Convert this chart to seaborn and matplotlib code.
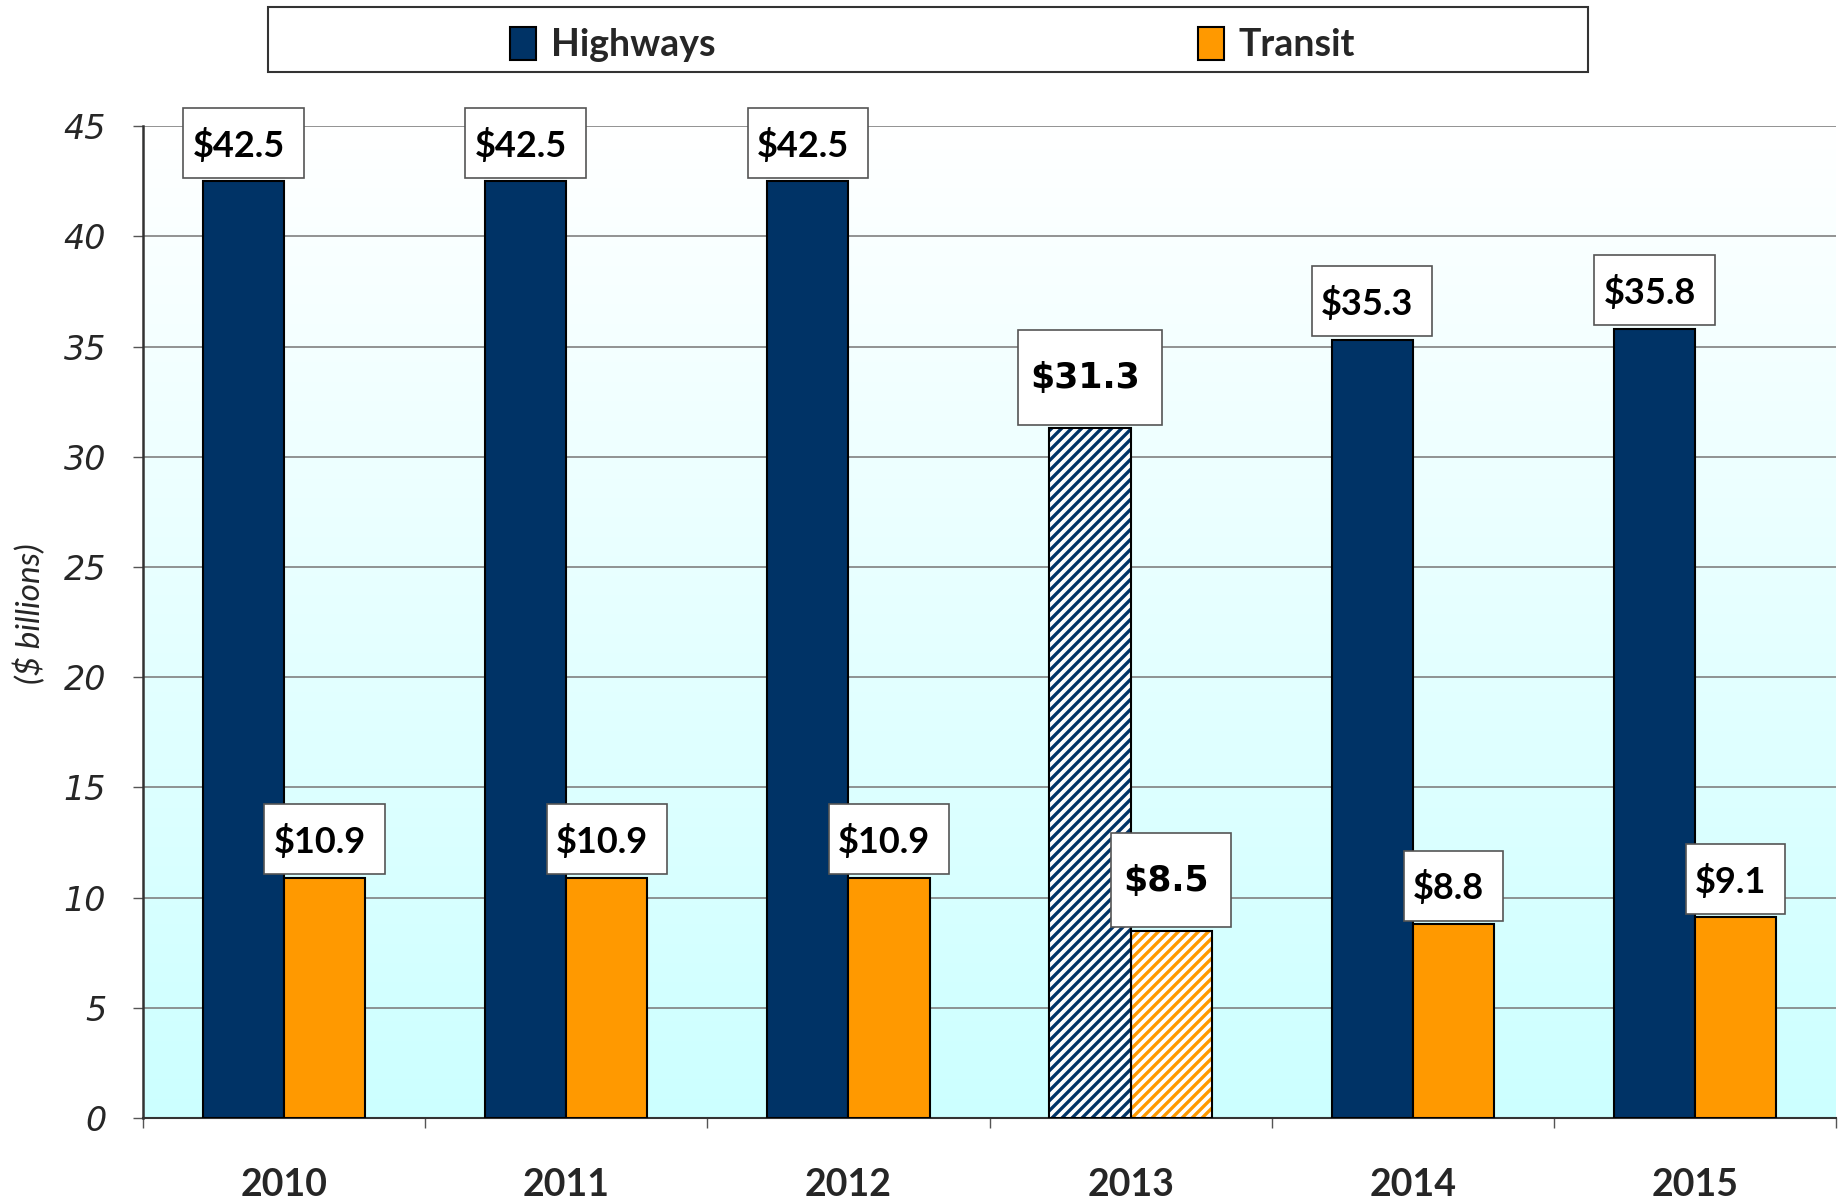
import numpy as np
import pandas as pd
import matplotlib
matplotlib.use("Agg")
import matplotlib.pyplot as plt
import seaborn as sns
from matplotlib.colors import LinearSegmentedColormap
from matplotlib.patches import Rectangle, Patch
from matplotlib.path import Path

# ---- data ----
years = ["2010", "2011", "2012", "2013", "2014", "2015"]
highways = [42.5, 42.5, 42.5, 31.3, 35.3, 35.8]
transit = [10.9, 10.9, 10.9, 8.5, 8.8, 9.1]
series = ["Highways", "Transit"]
colors = {"Highways": "#003366", "Transit": "#FF9900"}
hatched_year = "2013"
y_ticks = [0, 5, 10, 15, 20, 25, 30, 35, 40, 45]

df = pd.DataFrame({
    "year": years * 2,
    "mode": ["Highways"] * len(years) + ["Transit"] * len(years),
    "value": highways + transit,
})

# render at 120 dpi so the hatch spacing matches; sizes below are given
# as points at 100 dpi and scaled with pt()
DPI = 120
S = 100 / DPI


def pt(v):
    return v * S


def label_box(pl, pr, pb, ptop):
    # square box with separate padding on each side (in em)
    def box(x0, y0, width, height, mutation_size):
        m = mutation_size
        xa, xb = x0 - pl * m, x0 + width + pr * m
        ya, yb = y0 - pb * m, y0 + height + ptop * m
        return Path([(xa, ya), (xb, ya), (xb, yb), (xa, yb), (xa, ya)], closed=True)
    return box


sns.set_theme(style="white")
plt.rcParams["hatch.linewidth"] = 2.0
CAL = ["Lato", "DejaVu Sans"]

fig = plt.figure(figsize=(1843 / DPI, 1201 / DPI), dpi=DPI)
ax = fig.add_axes([0.0776, 0.0691, 0.9186, 0.8259])

# gradient background (white -> light cyan)
cmap = LinearSegmentedColormap.from_list("bg", ["#CCFFFF", "#FFFFFF"])
grad = np.linspace(0, 1, 256).reshape(-1, 1)
ax.imshow(grad, extent=[0, 1, 0, 1], transform=ax.transAxes, aspect="auto",
          cmap=cmap, origin="lower", zorder=-10)

sns.barplot(data=df, x="year", y="value", hue="mode", palette=colors,
            width=0.575, saturation=1, edgecolor="black", linewidth=pt(1.5),
            legend=False, ax=ax, zorder=3)

# hatch the 2013 bars
hi = years.index(hatched_year)
for cont, name in zip(ax.containers, series):
    bar = cont[hi]
    bar.set_facecolor("white")
    bar.set_hatch("////")
    bar.set_edgecolor(colors[name])
    bar.set_linewidth(0)
    ax.add_patch(Rectangle(bar.get_xy(), bar.get_width(), bar.get_height(),
                           fill=False, ec="black", lw=pt(1.5), zorder=4))

# value labels
for cont, vals in zip(ax.containers, [highways, transit]):
    for bar, val, yr in zip(cont, vals, years):
        if yr == hatched_year:
            fs, fam = 25, ["DejaVu Sans"]
            pl, pr, pb, ptop = 0.34, 0.64, 0.84, 0.9
        else:
            fs, fam = 26, CAL
            pl, pr, pb, ptop = 0.26, 0.52, 0.42, 0.55
        ax.annotate("\\$" + f"{val:.1f}",
                    xy=(bar.get_x() + bar.get_width() / 2, bar.get_height()),
                    xytext=(pt(-(pr - pl) / 2 * fs), pt(pb * fs + 2.5)),
                    textcoords="offset points",
                    ha="center", va="bottom", fontsize=pt(fs), fontweight="bold",
                    family=fam, color="black",
                    bbox=dict(boxstyle=label_box(pl, pr, pb, ptop), fc="white",
                              ec="#555555", lw=pt(1.2)),
                    zorder=6)

ax.set_xlim(-0.5, len(years) - 0.5)
ax.set_ylim(0, 45)
ax.set_yticks(y_ticks)
ax.set_yticklabels([str(t) for t in y_ticks], fontsize=pt(24), fontstyle="italic",
                   family="DejaVu Sans")
ax.tick_params(axis="y", direction="out", length=pt(7.5), width=pt(1), color="#555555",
               pad=pt(19), left=True)

ax.set_xticks(np.arange(-0.5, len(years), 1))
ax.set_xticklabels([])
ax.set_xticks(np.arange(len(years)), minor=True)
ax.set_xticklabels(years, minor=True, fontsize=pt(27), fontweight="bold", family=CAL)
ax.tick_params(axis="x", which="major", direction="out", length=pt(7.5), width=pt(1),
               color="#555555", bottom=True)
ax.tick_params(axis="x", which="minor", length=0, pad=pt(36))
ax.set_xlabel("")

ax.yaxis.grid(True, color="#808080", lw=pt(1.2))
ax.set_axisbelow(True)
for s in ["top", "right"]:
    ax.spines[s].set_visible(False)
ax.spines["left"].set_color("#333333")
ax.spines["left"].set_linewidth(pt(1.8))
ax.spines["bottom"].set_color("#333333")
ax.spines["bottom"].set_linewidth(pt(1.5))

ax.set_ylabel("(\\$ billions)", fontsize=pt(24), fontstyle="italic", family=CAL)
ax.yaxis.set_label_coords(-0.057, 0.508)

# legend with its own frame
handles = [Patch(facecolor=colors[s], edgecolor="black", lw=pt(1.5)) for s in series]
fs_leg = 27
fig.legend(handles, series, loc="center", bbox_to_anchor=(0.506, 0.963),
           ncol=2, frameon=False, handlelength=0.7, handleheight=1.0,
           handletextpad=0.4, columnspacing=482 / (fs_leg * 100 / 72),
           prop={"family": CAL, "weight": "bold", "size": pt(fs_leg)})
fig.add_artist(Rectangle((0.1454, 0.940), 0.716, 0.054, transform=fig.transFigure,
                         fill=False, ec="#333333", lw=pt(1.5)))

fig.savefig("out.png", dpi=DPI, facecolor="white")
